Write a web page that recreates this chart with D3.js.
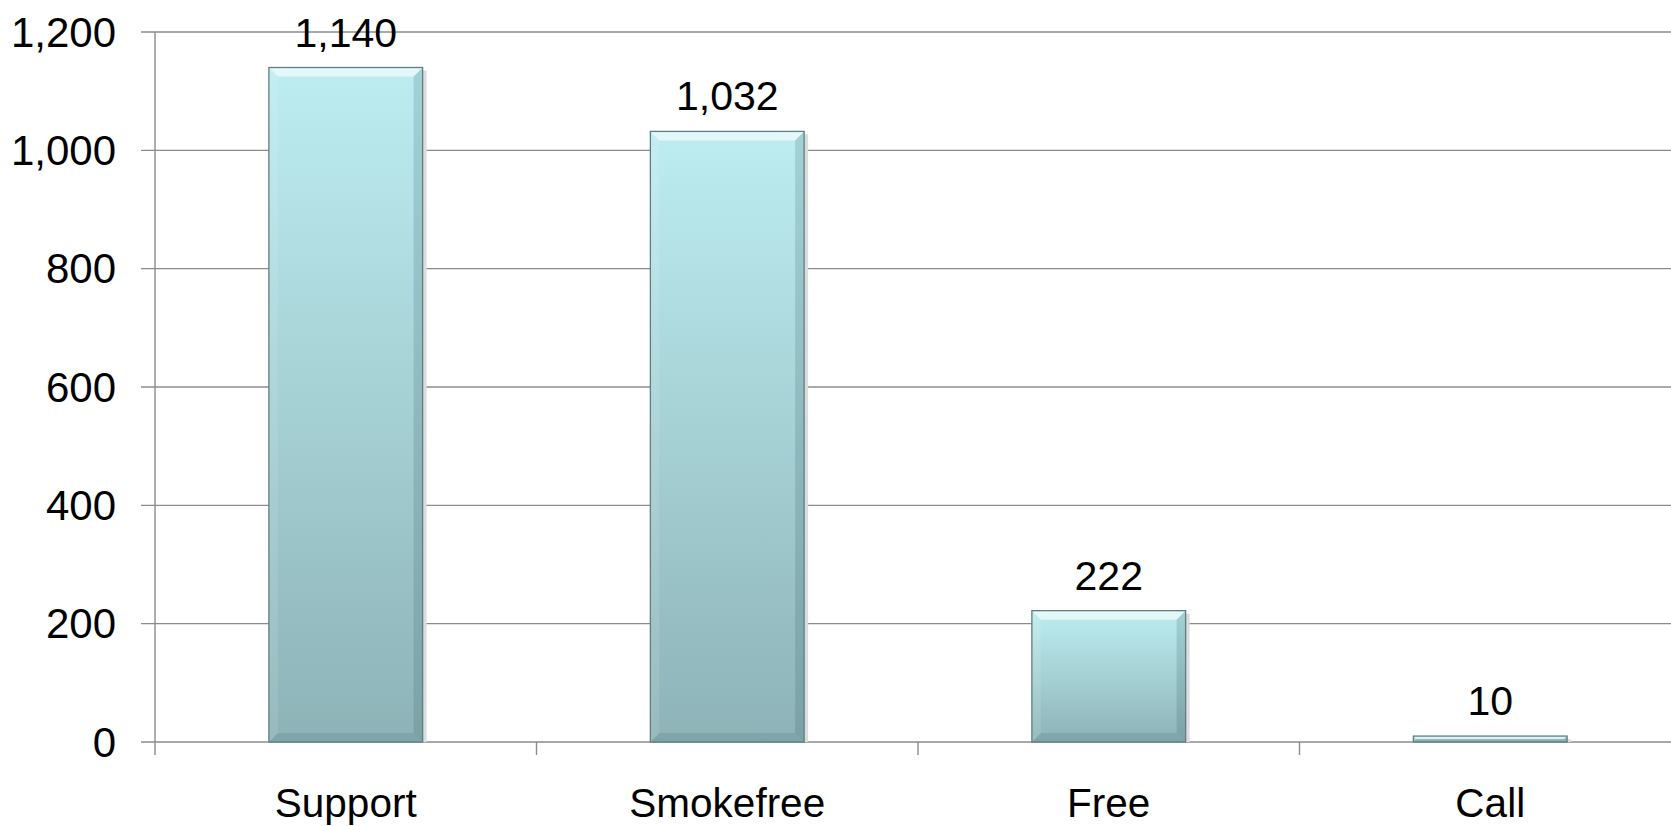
<!DOCTYPE html>
<html>
<head>
<meta charset="utf-8">
<script src="https://cdn.jsdelivr.net/npm/d3@7"></script>
<style>
  html, body { margin: 0; padding: 0; background: #fff; overflow: hidden; }
  text { font-family: "Liberation Sans", Arial, sans-serif; fill: #000; }
</style>
</head>
<body>
<div id="vis-container"></div>
<script>
// chart data
const categories = ["Support", "Smokefree", "Free", "Call"];
const values = [1140, 1032, 222, 10];
const yTicks = [0, 200, 400, 600, 800, 1000, 1200];

const width = 1671;
const height = 826;

// plot area (right edge runs past the window, like the original)
const plot = { left: 155, right: 1681, top: 32, bottom: 742 };

const svg = d3.select("#vis-container")
  .append("svg")
    .attr("width", width)
    .attr("height", height);

const defs = svg.append("defs");

// main vertical gradient of the bars
const grad = defs.append("linearGradient")
    .attr("id", "barFill")
    .attr("x1", 0).attr("y1", 0).attr("x2", 0).attr("y2", 1);
grad.append("stop").attr("offset", "0%").attr("stop-color", "#bdedf1");
grad.append("stop").attr("offset", "100%").attr("stop-color", "#8db3b7");

const x = d3.scaleBand()
  .domain(categories)
  .range([plot.left, plot.right])
  .paddingInner(0)
  .paddingOuter(0);

const y = d3.scaleLinear()
  .domain([0, 1200])
  .range([plot.bottom, plot.top]);

const barW = x.bandwidth() * 0.403;
const bev = 9;

// gridlines
svg.append("g")
  .selectAll("line")
  .data(yTicks)
  .enter()
    .append("line")
    .attr("x1", plot.left - 14)
    .attr("x2", width)
    .attr("y1", d => y(d))
    .attr("y2", d => y(d))
    .attr("stroke", "#8c8c8c")
    .attr("stroke-width", 1.4);

// y axis line
svg.append("line")
  .attr("x1", plot.left).attr("x2", plot.left)
  .attr("y1", plot.top).attr("y2", plot.bottom + 13)
  .attr("stroke", "#8c8c8c")
  .attr("stroke-width", 1.4);

// x category tick marks
svg.append("g")
  .selectAll("line")
  .data(categories.slice(1))
  .enter()
    .append("line")
    .attr("x1", d => x(d))
    .attr("x2", d => x(d))
    .attr("y1", plot.bottom)
    .attr("y2", plot.bottom + 13)
    .attr("stroke", "#8c8c8c")
    .attr("stroke-width", 1.4);

// y tick labels
svg.append("g")
  .selectAll("text")
  .data(yTicks)
  .enter()
    .append("text")
    .attr("x", plot.left - 39)
    .attr("y", d => y(d))
    .attr("dy", "0.35em")
    .attr("text-anchor", "end")
    .style("font-size", "42px")
    .text(d => d3.format(",")(d));

// bars
const bars = svg.append("g")
  .selectAll("g")
  .data(categories.map((c, i) => ({ cat: c, val: values[i] })))
  .enter()
    .append("g");

// soft shadow on the right
bars.append("rect")
  .attr("x", d => x(d.cat) + x.bandwidth() / 2 + barW / 2)
  .attr("y", d => y(d.val) + 3)
  .attr("width", 4)
  .attr("height", d => Math.max(0, y(0) - y(d.val) - 3))
  .attr("fill", "#dcdcdc");

bars.append("rect")
  .attr("x", d => x(d.cat) + x.bandwidth() / 2 - barW / 2)
  .attr("y", d => y(d.val))
  .attr("width", barW)
  .attr("height", d => y(0) - y(d.val))
  .attr("fill", "url(#barFill)");

// bevel facets
function facet(d, side) {
  const x0 = x(d.cat) + x.bandwidth() / 2 - barW / 2;
  const x1 = x0 + barW;
  const y0 = y(d.val);
  const y1 = y(0);
  const b = Math.min(bev, (y1 - y0) / 2);
  if (side === "top") return [[x0, y0], [x1, y0], [x1 - b, y0 + b], [x0 + b, y0 + b]];
  if (side === "bottom") return [[x0, y1], [x1, y1], [x1 - b, y1 - b], [x0 + b, y1 - b]];
  if (side === "left") return [[x0, y0], [x0 + b, y0 + b], [x0 + b, y1 - b], [x0, y1]];
  return [[x1, y0], [x1 - b, y0 + b], [x1 - b, y1 - b], [x1, y1]];
}

const facets = [
  { side: "top", fill: "#ffffff", op: 0.6 },
  { side: "left", fill: "#ffffff", op: 0.1 },
  { side: "right", fill: "#2e5559", op: 0.18 },
  { side: "bottom", fill: "#2e5559", op: 0.14 }
];

facets.forEach(f => {
  bars.append("polygon")
    .attr("points", d => facet(d, f.side).map(p => p.join(",")).join(" "))
    .attr("fill", f.fill)
    .attr("fill-opacity", f.op);
});

bars.append("rect")
  .attr("x", d => x(d.cat) + x.bandwidth() / 2 - barW / 2)
  .attr("y", d => y(d.val))
  .attr("width", barW)
  .attr("height", d => y(0) - y(d.val))
  .attr("fill", "none")
  .attr("stroke", "#5f7f82")
  .attr("stroke-width", 1.3);

// value labels
bars.append("text")
  .attr("x", d => x(d.cat) + x.bandwidth() / 2)
  .attr("y", d => y(d.val) - 21)
  .attr("text-anchor", "middle")
  .style("font-size", "41px")
  .text(d => d3.format(",")(d.val));

// category labels
svg.append("g")
  .selectAll("text")
  .data(categories)
  .enter()
    .append("text")
    .attr("x", d => x(d) + x.bandwidth() / 2)
    .attr("y", 817)
    .attr("text-anchor", "middle")
    .style("font-size", "40.5px")
    .text(d => d);
</script>
</body>
</html>
